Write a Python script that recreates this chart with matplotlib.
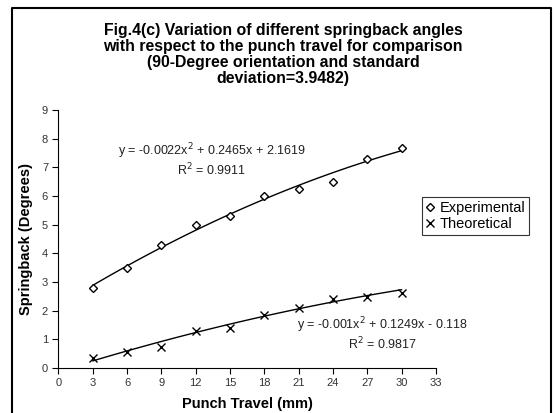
import numpy as np
import matplotlib
matplotlib.use("Agg")
import matplotlib.pyplot as plt
from matplotlib.lines import Line2D

plt.rcParams["font.family"] = ["Liberation Sans", "DejaVu Sans"]

travel = [3, 6, 9, 12, 15, 18, 21, 24, 27, 30]
experimental = [2.8, 3.5, 4.3, 4.97, 5.3, 6.0, 6.25, 6.5, 7.3, 7.68]
theoretical = [0.35, 0.57, 0.72, 1.3, 1.4, 1.85, 2.1, 2.4, 2.48, 2.62]

# second order trend line coefficients (a, b, c) and R^2
exp_fit = (-0.0022, 0.2465, 2.1619)
exp_r2 = 0.9911
theo_fit = (-0.001, 0.1249, -0.118)
theo_r2 = 0.9817

xticks = list(range(0, 34, 3))
yticks = list(range(0, 10))


def fit_label(c, r2):
    a, b, k = c
    sign = "-" if k < 0 else "+"
    return "y = %gx$^2$ + %gx %s %g\nR$^2$ = %g" % (a, b, sign, abs(k), r2)


fig = plt.figure(figsize=(5.55, 4.13), dpi=100)
ax = fig.add_axes([0.1054, 0.109, 0.680, 0.625])

xs = np.linspace(travel[0], travel[-1], 100)
for c in (exp_fit, theo_fit):
    ax.plot(xs, np.polyval(c, xs), color="black", lw=1)

ax.plot(travel, experimental, ls="none", marker="D", ms=4.5, mfc="white",
        mec="black", mew=1, label="Experimental")
ax.plot(travel, theoretical, ls="none", marker="x", ms=6, color="black",
        mew=1, label="Theoretical")

ax.text(13.4, 7.25, fit_label(exp_fit, exp_r2), ha="center", va="center",
        fontsize=9, linespacing=1.05, color="#222222")
ax.text(28.3, 1.2, fit_label(theo_fit, theo_r2), ha="center", va="center",
        fontsize=9, linespacing=1.05, color="#222222")

ax.set_xlim(0, 33)
ax.set_ylim(0, 9)
ax.set_xticks(xticks)
ax.set_yticks(yticks)
for s in ("top", "right"):
    ax.spines[s].set_visible(False)
for s in ("left", "bottom"):
    ax.spines[s].set_linewidth(0.8)
ax.tick_params(direction="out", length=4, width=0.8, labelsize=8,
               labelcolor="#333333")

ax.set_xlabel("Punch Travel (mm)", fontsize=10.5, fontweight="bold",
              labelpad=6)
ax.set_ylabel("Springback (Degrees)", fontsize=10.5, fontweight="bold",
              labelpad=6)

leg = fig.legend(*ax.get_legend_handles_labels(), loc="center left",
                 bbox_to_anchor=(0.760, 0.477),
                 frameon=True, fancybox=False, edgecolor="black",
                 fontsize=10.5, handlelength=0.6, handletextpad=0.35,
                 borderpad=0.25, labelspacing=0.15, borderaxespad=0)
leg.get_frame().set_linewidth(0.8)

fig.text(0.51, 0.868,
         "Fig.4(c) Variation of different springback angles\n"
         "with respect to the punch travel for comparison\n"
         "(90-Degree orientation and standard\n"
         "deviation=3.9482)",
         ha="center", va="center", fontsize=11.4, fontweight="bold",
         linespacing=1.1)

# outer border of the chart area
fx = [0.0216, 0.0216, 0.9928, 0.9928]
fy = [-0.01, 0.9806, 0.9806, -0.01]
fig.add_artist(Line2D(fx, fy, transform=fig.transFigure, color="black",
                      lw=1.5))

fig.savefig("out.png", dpi=100)
